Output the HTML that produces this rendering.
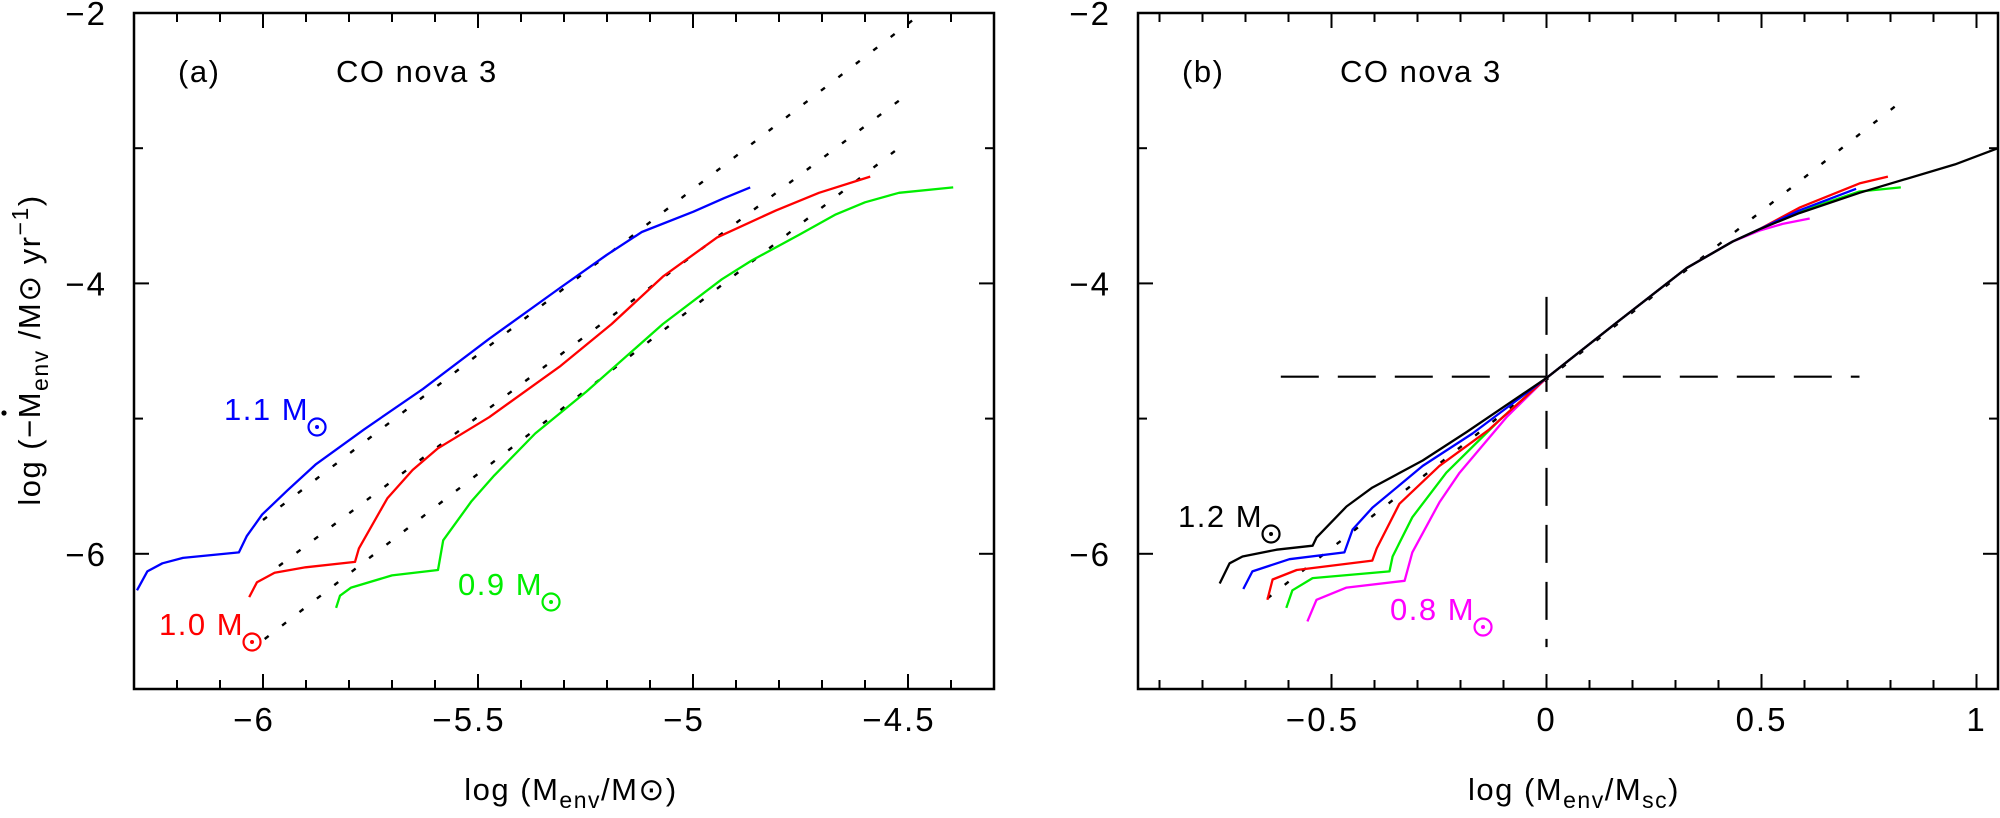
<!DOCTYPE html>
<html><head><meta charset="utf-8"><style>
html,body{margin:0;padding:0;background:#fff;}
svg{display:block;font-family:"Liberation Sans","DejaVu Sans",sans-serif;}
</style></head><body>
<svg id="chart" width="2000" height="818" viewBox="0 0 2000 818">
<g id="pa"></g>
<g id="pb"></g>
</svg>
<script>
// ---------- Panel (a) data ----------
const aBlueX=[-6.293,-6.269,-6.234,-6.186,-6.056,-6.038,-6.002,-5.943,-5.878,-5.765,-5.628,-5.474,-5.308,-5.201,-5.119,-4.999,-4.928,-4.867];
const aBlueY=[-6.27,-6.13,-6.07,-6.03,-5.99,-5.87,-5.71,-5.53,-5.34,-5.08,-4.78,-4.41,-4.03,-3.79,-3.62,-3.47,-3.37,-3.29];
const aRedX=[-6.032,-6.014,-5.973,-5.901,-5.786,-5.777,-5.711,-5.652,-5.593,-5.474,-5.308,-5.189,-5.070,-4.944,-4.807,-4.707,-4.588];
const aRedY=[-6.32,-6.21,-6.14,-6.10,-6.06,-5.96,-5.59,-5.38,-5.22,-4.99,-4.61,-4.30,-3.95,-3.66,-3.46,-3.33,-3.21];
const aGreenX=[-5.830,-5.821,-5.795,-5.700,-5.593,-5.581,-5.515,-5.462,-5.367,-5.248,-5.070,-4.933,-4.863,-4.753,-4.668,-4.60,-4.521,-4.395];
const aGreenY=[-6.40,-6.31,-6.25,-6.16,-6.12,-5.90,-5.61,-5.42,-5.11,-4.80,-4.30,-3.97,-3.83,-3.64,-3.49,-3.40,-3.33,-3.29];
const aFitX1=[-6.0,-4.48], aFitY1=[-5.75,-2.03];
const aFitX2=[-5.963,-4.505], aFitY2=[-6.09,-2.61];
const aFitX3=[-5.996,-4.514], aFitY3=[-6.63,-2.98];
// ---------- Panel (b) data ----------
const bBlackX=[-0.760,-0.737,-0.707,-0.628,-0.544,-0.535,-0.465,-0.405,-0.288,-0.186,0,0.163,0.326,0.433,0.495,0.588,0.728,0.95,1.05];
const bBlackY=[-6.22,-6.07,-6.02,-5.97,-5.94,-5.88,-5.65,-5.51,-5.31,-5.10,-4.70,-4.29,-3.886,-3.69,-3.60,-3.48,-3.33,-3.12,-3.0];
const bBlueX=[-0.705,-0.684,-0.598,-0.470,-0.451,-0.405,-0.288,-0.172,0,0.163,0.326,0.433,0.495,0.588,0.72];
const bBlueY=[-6.26,-6.13,-6.04,-5.99,-5.82,-5.66,-5.35,-5.11,-4.70,-4.29,-3.886,-3.69,-3.60,-3.46,-3.30];
const bRedX=[-0.649,-0.637,-0.581,-0.405,-0.395,-0.342,-0.249,-0.133,0,0.163,0.326,0.433,0.495,0.588,0.728,0.794];
const bRedY=[-6.34,-6.19,-6.12,-6.05,-5.96,-5.63,-5.35,-5.08,-4.70,-4.29,-3.886,-3.69,-3.60,-3.44,-3.26,-3.21];
const bGreenX=[-0.605,-0.591,-0.544,-0.365,-0.358,-0.312,-0.233,-0.109,0,0.163,0.326,0.433,0.495,0.588,0.728,0.824];
const bGreenY=[-6.40,-6.27,-6.18,-6.13,-6.02,-5.73,-5.40,-5.01,-4.70,-4.29,-3.886,-3.69,-3.60,-3.47,-3.32,-3.29];
const bMagX=[-0.556,-0.535,-0.465,-0.330,-0.312,-0.249,-0.202,-0.093,0,0.163,0.326,0.433,0.495,0.549,0.612];
const bMagY=[-6.50,-6.34,-6.25,-6.20,-5.99,-5.62,-5.40,-4.99,-4.70,-4.29,-3.886,-3.69,-3.61,-3.56,-3.52];
const bFitX=[-0.649,0.839], bFitY=[-6.33,-2.62];
const bHLineX=[-0.618,0.728], bHLineY=[-4.69,-4.69];
const bVLineX=[0,0], bVLineY=[-4.10,-6.69];
const yTicksMajor=[-2,-4,-6];
const aXTickLabels=[-6,-5.5,-5,-4.5];
const bXTickLabels=[-0.5,0,0.5,1];

const NS="http://www.w3.org/2000/svg";
function mk(parent,tag,attrs){const e=document.createElementNS(NS,tag);for(const k in attrs)e.setAttribute(k,attrs[k]);parent.appendChild(e);return e;}
function scales(x0,x1,px0,px1){
  const yTop=13,yBot=689;
  return {sx:v=>px0+(v-x0)/(x1-x0)*(px1-px0), sy:v=>yTop+(-2-v)/5*(yBot-yTop), px0,px1,yTop,yBot,x0,x1};
}
function fmt(v){return (v<0?"\u2212":"")+String(Math.abs(v));}
function frame(g,S,xLabels){
  const r=mk(g,'rect',{x:S.px0,y:S.yTop,width:S.px1-S.px0,height:S.yBot-S.yTop,fill:'none',stroke:'#000','stroke-width':2.5});
  
  
  const n0=Math.ceil(S.x0*10-1e-6), n1=Math.floor(S.x1*10+1e-6);
  for(let i=n0;i<=n1;i++){
    const v=i/10, x=S.sx(v), maj=(Math.abs(i%5)===0), L=maj?15:9;
    const t1=mk(g,'line',{x1:x,x2:x,y1:S.yBot,y2:S.yBot-L,stroke:'#000','stroke-width':2});
    
    
    const t2=mk(g,'line',{x1:x,x2:x,y1:S.yTop,y2:S.yTop+L,stroke:'#000','stroke-width':2});
    
    
  }
  for(let v=-3;v>=-7;v--){
    const y=S.sy(v), maj=(v%2===0), L=maj?15:9;
    const t1=mk(g,'line',{x1:S.px0,x2:S.px0+L,y1:y,y2:y,stroke:'#000','stroke-width':2});
    
    
    const t2=mk(g,'line',{x1:S.px1,x2:S.px1-L,y1:y,y2:y,stroke:'#000','stroke-width':2});
    
    
  }
  yTicksMajor.forEach(v=>{
    const t=mk(g,'text',{x:S.px0-27,y:S.sy(v)+12,'text-anchor':'end','font-size':33,'letter-spacing':2});
    t.textContent=fmt(v);
    
    
  });
  xLabels.forEach(v=>{
    const t=mk(g,'text',{x:S.sx(v)-(v<0?9:0),y:731,'text-anchor':'middle','font-size':33,'letter-spacing':2});
    t.textContent=fmt(v);
    
    
  });
}
function poly(g,S,xs,ys,color,name,dash,w){
  const pts=xs.map((x,i)=>S.sx(x).toFixed(1)+','+S.sy(ys[i]).toFixed(1)).join(' ');
  const p=mk(g,'polyline',{points:pts,fill:'none',stroke:color,'stroke-width':w||2.3,'stroke-linejoin':'round'});
  if(dash)p.setAttribute('stroke-dasharray',dash);
  
  
}
function txt(g,x,y,s,color,name,size){
  const t=mk(g,'text',{x:x,y:y,'font-size':size||31,fill:color,'letter-spacing':1.5});
  t.textContent=s;
  
  
  return t;
}
function sun(g,cx,cy,r,color){
  mk(g,'circle',{cx:cx,cy:cy,r:r,fill:'none',stroke:color,'stroke-width':2.2});
  mk(g,'circle',{cx:cx,cy:cy,r:2,fill:color});
}
function massLabel(g,x,y,num,color,name){
  const t=txt(g,x,y,num+"  M",color,name);
  const bb=t.getBBox();
  sun(g,bb.x+bb.width+8,y+7,8.5,color);
}

// Panel a
const ga=document.getElementById('pa');
const SA=scales(-6.3,-4.3,134,994);
frame(ga,SA,aXTickLabels);
poly(ga,SA,aFitX1,aFitY1,'#000','fit-line-1p1','5,17',2.4);
poly(ga,SA,aFitX2,aFitY2,'#000','fit-line-1p0','5,17',2.4);
poly(ga,SA,aFitX3,aFitY3,'#000','fit-line-0p9','5,17',2.4);
poly(ga,SA,aBlueX,aBlueY,'#0000ff','curve-1p1-msun');
poly(ga,SA,aRedX,aRedY,'#ff0000','curve-1p0-msun');
poly(ga,SA,aGreenX,aGreenY,'#00ee00','curve-0p9-msun');
txt(ga,178,82,'(a)','#000','panel-a-label');
txt(ga,336,82,'CO  nova  3','#000','panel-a-title');
massLabel(ga,224,420,'1.1','#0000ff','label-1p1-msun');
massLabel(ga,159,635,'1.0','#ff0000','label-1p0-msun');
massLabel(ga,458,595,'0.9','#00ee00','label-0p9-msun');
const yt=mk(ga,'text',{x:0,y:0,'font-size':31,transform:'translate(40,350) rotate(-90)','text-anchor':'middle','letter-spacing':1.5});


yt.innerHTML='log (\u2212M<tspan font-size="23" dy="8">env</tspan><tspan dy="-8">  /M\u2299  yr</tspan><tspan font-size="23" dy="-12">\u22121</tspan><tspan dy="12">)</tspan>';
const dotm=mk(ga,'circle',{cx:4,cy:413,r:2.6,fill:'#000'});


const xa=mk(ga,'text',{x:571,y:800,'font-size':31,'text-anchor':'middle','letter-spacing':1.5});


xa.innerHTML='log  (M<tspan font-size="23" dy="8">env</tspan><tspan dy="-8">/M\u2299)</tspan>';

// Panel b
const gb=document.getElementById('pb');
const SB=scales(-0.95,1.05,1138,1998);
frame(gb,SB,bXTickLabels);
poly(gb,SB,bHLineX,bHLineY,'#000','reference-hline','38,19',2.2);
poly(gb,SB,bVLineX,bVLineY,'#000','reference-vline','38,19',2.2);
poly(gb,SB,bFitX,bFitY,'#000','fit-line-b','5,17',2.4);
poly(gb,SB,bMagX,bMagY,'#ff00ff','curve-0p8-msun');
poly(gb,SB,bGreenX,bGreenY,'#00ee00','curve-0p9-msun-b');
poly(gb,SB,bRedX,bRedY,'#ff0000','curve-1p0-msun-b');
poly(gb,SB,bBlueX,bBlueY,'#0000ff','curve-1p1-msun-b');
poly(gb,SB,bBlackX,bBlackY,'#000','curve-1p2-msun');
txt(gb,1182,82,'(b)','#000','panel-b-label');
txt(gb,1340,82,'CO  nova  3','#000','panel-b-title');
massLabel(gb,1178,527,'1.2','#000','label-1p2-msun');
massLabel(gb,1390,620,'0.8','#ff00ff','label-0p8-msun');
const xb=mk(gb,'text',{x:1574,y:800,'font-size':31,'text-anchor':'middle','letter-spacing':1.5});


xb.innerHTML='log  (M<tspan font-size="23" dy="8">env</tspan><tspan dy="-8">/M</tspan><tspan font-size="23" dy="8">sc</tspan><tspan dy="-8">)</tspan>';
</script>
</body></html>
